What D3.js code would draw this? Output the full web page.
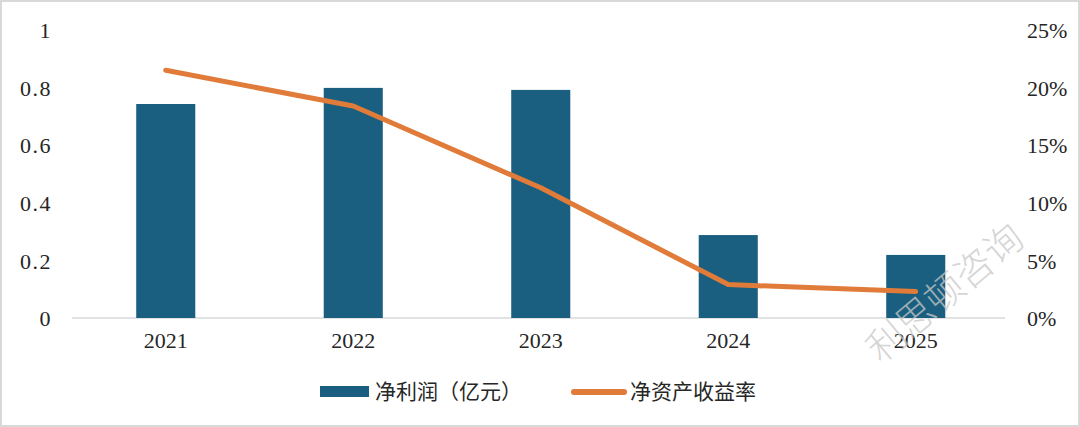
<!DOCTYPE html>
<html><head><meta charset="utf-8">
<script src="https://cdn.jsdelivr.net/npm/d3@7"></script>
<style>
html,body{margin:0;padding:0;background:#fff;}
svg{display:block;}
text{font-family:"Liberation Serif","Noto Sans CJK SC",serif;fill:#262626;}
</style></head>
<body><svg id="c" width="1080" height="427"></svg>
<script>
const years = ["2021","2022","2023","2024","2025"];
const netProfit = [0.743, 0.799, 0.792, 0.288, 0.219];
const roe = [0.215, 0.184, 0.113, 0.029, 0.023];
const leftTicks = [0, 0.2, 0.4, 0.6, 0.8, 1];
const rightTicks = [0, 0.05, 0.10, 0.15, 0.20, 0.25];
const legendLabels = ["净利润（亿元）", "净资产收益率"];
const watermark = "利思顿咨询";

(function(){
const svg = d3.select("#c");
const W = 1080, H = 427;
svg.append("rect").attr("x",1).attr("y",1).attr("width",W-2).attr("height",H-2)
  .attr("fill","#fff").attr("stroke","#d9d9d9").attr("stroke-width",2);

const pL = 72, pR = 1009.5, pT = 30, pB = 318;
const x = d3.scaleBand().domain(years).range([pL,pR]).paddingInner(0.685).paddingOuter(0.3425);
const yL = d3.scaleLinear().domain([0,1]).range([pB,pT]);
const yR = d3.scaleLinear().domain([0,0.25]).range([pB,pT]);

svg.append("line").attr("x1",pL).attr("x2",1005).attr("y1",pB).attr("y2",pB)
  .attr("stroke","#d9d9d9").attr("stroke-width",1.5);

svg.selectAll("rect.bar").data(netProfit).enter().append("rect").attr("class","bar")
  .attr("x",(d,i)=>x(years[i])).attr("width",x.bandwidth())
  .attr("y",d=>yL(d)).attr("height",d=>pB-yL(d)).attr("fill","#1a5f7f");

const line = d3.line().x((d,i)=>x(years[i])+x.bandwidth()/2).y(d=>yR(d));
svg.append("path").datum(roe).attr("d",line).attr("fill","none")
  .attr("stroke","#e07b39").attr("stroke-width",5).attr("stroke-linecap","round").attr("stroke-linejoin","round");

const axL = d3.axisLeft(yL).tickValues(leftTicks).tickSize(0).tickPadding(0)
  .tickFormat(d=> d===0||d===1 ? String(d) : d3.format(".1f")(d));
const gL = svg.append("g").attr("transform","translate(52,0)").call(axL);
gL.select(".domain").remove();
gL.selectAll("text").attr("font-size",22).attr("fill","#262626")
  .style("font-family",'"Liberation Serif",serif').style("letter-spacing","1.5px").attr("dy","0.35em");

const axR = d3.axisRight(yR).tickValues(rightTicks).tickSize(0).tickPadding(0)
  .tickFormat(d3.format(".0%"));
const gR = svg.append("g").attr("transform","translate(1027,0)").call(axR);
gR.select(".domain").remove();
gR.selectAll("text").attr("font-size",22).attr("fill","#262626")
  .style("font-family",'"Liberation Serif",serif').attr("dy","0.35em");

const axB = d3.axisBottom(x).tickSize(0).tickPadding(0);
const gB = svg.append("g").attr("transform",`translate(0,${pB+14})`).call(axB);
gB.select(".domain").remove();
gB.selectAll("text").attr("font-size",22).attr("fill","#262626")
  .style("font-family",'"Liberation Serif",serif').attr("dy","0.71em");

const lg = svg.append("g");
lg.append("rect").attr("x",320).attr("y",386).attr("width",49).attr("height",11).attr("fill","#1a5f7f");
lg.append("text").attr("x",375).attr("y",392).attr("dy","0.35em").attr("font-size",21).text(legendLabels[0]);
lg.append("line").attr("x1",574).attr("x2",624).attr("y1",392).attr("y2",392)
  .attr("stroke","#e07b39").attr("stroke-width",6).attr("stroke-linecap","round");
lg.append("text").attr("x",630).attr("y",392).attr("dy","0.35em").attr("font-size",21).text(legendLabels[1]);

svg.append("text").attr("transform","translate(945,293) rotate(-40)")
  .attr("text-anchor","middle").attr("dy","0.35em").attr("font-size",38)
  .style("fill","#c8c8c8").style("fill-opacity",0.75)
  .style("font-family",'"Noto Sans CJK SC",sans-serif').style("font-weight",300)
  .text(watermark);
})();
</script></body></html>
